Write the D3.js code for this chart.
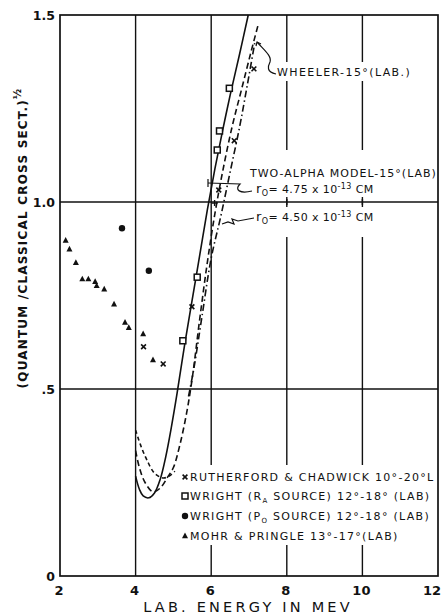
<!DOCTYPE html>
<html>
<head>
<meta charset="utf-8">
<script src="https://cdn.jsdelivr.net/npm/d3@7"></script>
<style>
body { margin: 0; background: #fff; }
svg text { font-family: "DejaVu Sans", sans-serif; fill: #111; }
</style>
</head>
<body>
<svg id="chart" width="443" height="616"></svg>
<script>
// axis ticks
var xTicks = [2, 4, 6, 8, 10, 12];
var xTickLabels = ["2", "4", "6", "8", "10", "12"];
var yTicks = [0, 0.5, 1.0, 1.5];
var yTickLabels = ["0", ".5", "1.0", "1.5"];

// measured points (energy MeV, ratio)
var rutherford = [[4.21, 0.613], [4.73, 0.567], [5.49, 0.720], [6.20, 1.032], [6.61, 1.164], [7.13, 1.356]];
var plusPts = [[6.09, 0.997]];
var wrightRa = [[5.25, 0.629], [5.63, 0.799], [6.16, 1.139], [6.22, 1.190], [6.48, 1.304]];
var wrightPo = [[3.64, 0.930], [4.35, 0.816]];
var mohr = [[2.15, 0.897], [2.25, 0.874], [2.42, 0.838], [2.59, 0.794], [2.75, 0.794], [2.93, 0.787],
            [2.97, 0.776], [3.17, 0.767], [3.43, 0.727], [3.72, 0.678], [3.82, 0.664], [4.20, 0.647], [4.46, 0.578]];

// theory curves
var curveR475 = [[4.0, 0.267], [4.1, 0.232], [4.2, 0.214], [4.35, 0.209], [4.5, 0.222], [4.65, 0.258], [4.8, 0.32],
                 [4.95, 0.40], [5.1, 0.49], [5.3, 0.62], [5.5, 0.74], [5.7, 0.86], [5.9, 0.98], [6.1, 1.09],
                 [6.3, 1.19], [6.5, 1.285], [6.75, 1.395], [6.98, 1.5]];
var curveR450 = [[4.0, 0.335], [4.1, 0.29], [4.25, 0.25], [4.46, 0.225], [4.65, 0.235], [4.85, 0.265], [5.0, 0.29],
                 [5.17, 0.35], [5.35, 0.436], [5.5, 0.53], [5.7, 0.69], [5.9, 0.84], [6.1, 0.97], [6.3, 1.08],
                 [6.55, 1.2], [6.8, 1.3], [7.05, 1.40], [7.24, 1.473]];
var curveEar = [[4.0, 0.39], [4.15, 0.345], [4.3, 0.31], [4.5, 0.275], [4.73, 0.262], [4.9, 0.268], [5.04, 0.28]];
var curveWheeler = [[5.4, 0.48], [5.55, 0.56], [5.75, 0.69], [6.0, 0.85], [6.25, 0.96], [6.5, 1.08],
                    [6.75, 1.2], [6.95, 1.31], [7.16, 1.43]];

var legendLabels = ["RUTHERFORD & CHADWICK 10°-20°L", "WRIGHT (R", "WRIGHT (P", "MOHR & PRINGLE 13°-17°(LAB)"];

var svg = d3.select("#chart");
var x = d3.scaleLinear().domain([2, 12]).range([60, 438]);
var y = d3.scaleLinear().domain([0, 1.5]).range([576, 15]);

var ink = "#111";

// grid lines
svg.append("g").selectAll("line").data(xTicks.slice(1, -1)).join("line")
  .attr("x1", d => x(d)).attr("x2", d => x(d))
  .attr("y1", y(1.5)).attr("y2", y(0))
  .attr("stroke", ink).attr("stroke-width", 1.4);
svg.append("g").selectAll("line").data([0.5, 1.0]).join("line")
  .attr("x1", x(2)).attr("x2", x(12))
  .attr("y1", d => y(d)).attr("y2", d => y(d))
  .attr("stroke", ink).attr("stroke-width", 1.4);

// white gaps behind the lettering
var gaps = [[272, 62, 148, 19], [246, 150, 194, 49], [246, 205, 194, 32], [180, 465, 262, 80]];
svg.append("g").selectAll("rect").data(gaps).join("rect")
  .attr("x", d => d[0]).attr("y", d => d[1]).attr("width", d => d[2]).attr("height", d => d[3])
  .attr("fill", "#fff");
// little tick marks left through the gap on the 1.0 line
svg.append("g").selectAll("line").data([8, 10]).join("line")
  .attr("x1", d => x(d)).attr("x2", d => x(d))
  .attr("y1", y(1.0) - 5).attr("y2", y(1.0) + 5)
  .attr("stroke", ink).attr("stroke-width", 1.4);

// frame
svg.append("rect").attr("x", x(2)).attr("y", y(1.5))
  .attr("width", x(12) - x(2)).attr("height", y(0) - y(1.5))
  .attr("fill", "none").attr("stroke", ink).attr("stroke-width", 1.7);

// curves
var line = d3.line().x(d => x(d[0])).y(d => y(d[1])).curve(d3.curveCatmullRom.alpha(0.5));
function drawCurve(data, dash) {
  svg.append("path").datum(data).attr("d", line)
    .attr("fill", "none").attr("stroke", ink).attr("stroke-width", 1.6)
    .attr("stroke-dasharray", dash);
}
drawCurve(curveR475, null);
drawCurve(curveR450, "6,3.5");
drawCurve(curveEar, "4,3");
drawCurve(curveWheeler, "7,3,1.5,3");

// markers
function cross(g) {
  g.append("path").attr("d", "M-2.4,-2.4L2.4,2.4M2.4,-2.4L-2.4,2.4")
    .attr("stroke", ink).attr("stroke-width", 1.6).attr("fill", "none");
}
function plus(g) {
  g.append("path").attr("d", "M0,-3L0,3M-3,0L3,0")
    .attr("stroke", ink).attr("stroke-width", 1.4).attr("fill", "none");
}
function square(g) {
  g.append("rect").attr("x", -3).attr("y", -3).attr("width", 6).attr("height", 6)
    .attr("fill", "#fff").attr("stroke", ink).attr("stroke-width", 1.5);
}
function dot(g) {
  g.append("circle").attr("r", 3.2).attr("fill", ink);
}
function tri(g) {
  g.append("path").attr("d", "M0,-3.4L3,2.3L-3,2.3Z").attr("fill", ink);
}
function drawPts(data, mark) {
  svg.append("g").selectAll("g").data(data).join("g")
    .attr("transform", d => "translate(" + x(d[0]) + "," + y(d[1]) + ")")
    .each(function() { mark(d3.select(this)); });
}
drawPts(rutherford, cross);
drawPts(plusPts, plus);
drawPts(wrightRa, square);
drawPts(wrightPo, dot);
drawPts(mohr, tri);

// tick labels
svg.append("g").selectAll("text").data(xTicks).join("text")
  .attr("x", (d, i) => i === xTicks.length - 1 ? x(d) - 6 : x(d) - 1).attr("y", 595)
  .attr("text-anchor", "middle").attr("font-size", 13).attr("font-weight", "bold")
  .text((d, i) => xTickLabels[i]);
svg.append("g").selectAll("text").data(yTicks).join("text")
  .attr("x", 55).attr("y", d => y(d) + 5)
  .attr("text-anchor", "end").attr("font-size", 12.5).attr("font-weight", "bold")
  .text((d, i) => yTickLabels[i]);

// axis titles
svg.append("text").attr("x", 248).attr("y", 612)
  .attr("text-anchor", "middle").attr("font-size", 14.5).attr("letter-spacing", 3.2)
  .text("LAB. ENERGY IN MEV");
var yt = svg.append("text").attr("transform", "translate(27,238) rotate(-90)")
  .attr("text-anchor", "middle").attr("font-size", 12).attr("font-weight", "bold").attr("letter-spacing", 1.2);
yt.append("tspan").text("(QUANTUM /CLASSICAL CROSS SECT.)");
yt.append("tspan").attr("dy", -6).attr("font-size", 10).text("½");

// annotations
var note = svg.append("g").attr("font-size", 11).attr("letter-spacing", 1.4);
note.append("text").attr("x", 277).attr("y", 76).text("WHEELER-15°(LAB.)");
note.append("text").attr("x", 250).attr("y", 177).attr("letter-spacing", 1.0).text("TWO-ALPHA MODEL-15°(LAB)");
function rLabel(ty, val) {
  var t = note.append("text").attr("x", 256).attr("y", ty).attr("letter-spacing", 0.4);
  t.append("tspan").attr("font-size", 13).text("r");
  t.append("tspan").attr("dy", 3).attr("font-size", 8).text("O");
  t.append("tspan").attr("dy", -3).text("= " + val + " x 10");
  t.append("tspan").attr("dy", -4).attr("font-size", 8).text("-13");
  t.append("tspan").attr("dy", 4).text(" CM");
}
rLabel(193, "4.75");
rLabel(221, "4.50");

// leader arrows
var arrows = [
  "M276,74 C266,72 268,66 270,62 C272,56 264,50 257,42",
  "M256,46 L257,42 L261,44",
  "M252,191 C240,194 234,190 240,184 L208,183",
  "M208,179 L208,187",
  "M254,218 L238,221 L232,219 L234,224 L228,222 L222,224"
];
svg.append("g").selectAll("path").data(arrows).join("path")
  .attr("d", d => d).attr("fill", "none").attr("stroke", ink).attr("stroke-width", 1.2);

// legend
var legend = svg.append("g").attr("font-size", 11).attr("letter-spacing", 1.3);
var legY = [477, 496, 516, 536];
var legMarks = [cross, square, dot, tri];
legY.forEach(function(ly, i) {
  var g = legend.append("g").attr("transform", "translate(185," + ly + ")");
  legMarks[i](g);
  var t = legend.append("text").attr("x", 190).attr("y", ly + 4);
  if (i === 1 || i === 2) {
    t.append("tspan").text(legendLabels[i]);
    t.append("tspan").attr("dy", 3).attr("font-size", 7).text(i === 1 ? "A" : "O");
    t.append("tspan").attr("dy", -3).text(" SOURCE) 12°-18° (LAB)");
  } else {
    t.text(legendLabels[i]);
  }
});
</script>
</body>
</html>
